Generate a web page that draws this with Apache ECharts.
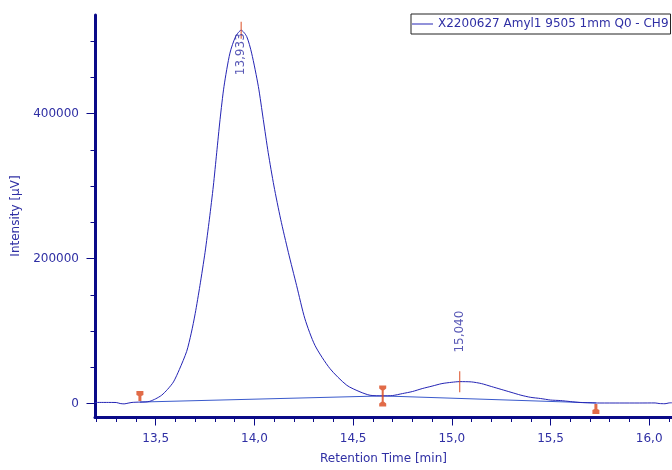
<!DOCTYPE html>
<html><head><meta charset="utf-8">
<script src="https://cdn.jsdelivr.net/npm/echarts@6/dist/echarts.min.js"></script>
<style>html,body{margin:0;padding:0;background:#fff}#c{width:672px;height:470px}</style>
</head><body><div id="c"></div>
<script>
const seriesName = 'X2200627 Amyl1 9505 1mm Q0 - CH9';
const times = [13.19, 13.25, 13.30, 13.32, 13.34, 13.36, 13.38, 13.42, 13.45, 13.47, 13.50, 13.53, 13.56, 13.59, 13.62, 13.657, 13.68, 13.70, 13.724, 13.75, 13.772, 13.792, 13.809, 13.826, 13.846, 13.876, 13.905, 13.933, 13.961, 13.986, 14.02, 14.045, 14.07, 14.099, 14.133, 14.172, 14.214, 14.256, 14.307, 14.383, 14.468, 14.535, 14.586, 14.65, 14.70, 14.75, 14.80, 14.85, 14.90, 14.95, 15.00, 15.04, 15.10, 15.15, 15.20, 15.25, 15.30, 15.35, 15.40, 15.45, 15.50, 15.55, 15.60, 15.65, 15.70, 15.75, 15.85, 15.95, 16.03, 16.05, 16.08, 16.10, 16.115];
const intensity = [1500, 1500, 1400, 0, -500, 500, 1500, 2000, 2200, 3000, 6500, 11400, 19500, 29800, 47000, 72000, 97000, 124000, 162600, 208500, 254300, 300100, 346000, 391800, 437500, 483400, 506300, 515000, 506300, 483400, 437500, 391800, 346000, 300100, 254300, 208500, 162600, 116800, 80100, 48100, 25200, 16100, 11400, 10500, 11000, 13700, 16500, 20600, 24000, 27500, 29300, 30200, 29800, 27500, 23500, 19500, 15500, 11500, 8500, 6900, 4800, 4100, 2700, 1400, 1000, 700, 700, 700, 800, 0, -300, 800, 1000];
const baselineTimes = [13.42, 14.65, 15.73];
const baselineValues = [2000, 10500, 800];
const peakTimes = [13.933, 15.040];
const peakValues = [515000, 30200];
const xMajorTicks = [13.5, 14.0, 14.5, 15.0, 15.5, 16.0];
const xMinorTicks = [13.2, 13.3, 13.4, 13.6, 13.7, 13.8, 13.9, 14.1, 14.2, 14.3, 14.4, 14.6, 14.7, 14.8, 14.9, 15.1, 15.2, 15.3, 15.4, 15.6, 15.7, 15.8, 15.9, 16.1];
const yMajorTicks = [0, 200000, 400000];
const yMinorTicks = [50000, 100000, 150000, 250000, 300000, 350000, 450000, 500000];

const NAVY = '#0a0a88';
const TXT = '#2f2fa4';
const RED = '#d9461a';
const FONT = 'DejaVu Sans';
const X_MIN = 13.1925, X_MAX = 16.1155, Y_MIN = -18600, Y_MAX = 536000;

const fmtX = v => v.toFixed(1).replace('.', ',');
const fmtY = v => String(Math.round(v));
const fmtPeak = v => v.toFixed(3).replace('.', ',');

const chart = echarts.init(document.getElementById('c'), null, {renderer: 'canvas'});
const markerStart = 'path://M0,0 L7,0 L7,4 L5,5 L5,10 L2,10 L2,5 L0,4 Z';
const markerValley = 'path://M0,0 L7,0 L7,3 L4.5,5 L4.5,16 L7,18 L7,21 L0,21 L0,18 L2.5,16 L2.5,5 L0,3 Z';
const markerEnd = 'path://M2,0 L5,0 L5,5 L7,6 L7,10 L0,10 L0,6 L2,5 Z';

chart.setOption({
  animation: false,
  backgroundColor: '#fff',
  grid: {left: 95, right: 0, top: 15, bottom: 51.5, containLabel: false},
  legend: {
    data: [seriesName], left: 411, top: 14, padding: [4, 2, 4, 1],
    itemWidth: 21, itemHeight: 1, icon: 'rect',
    borderColor: '#222', borderWidth: 1, backgroundColor: '#fff',
    textStyle: {color: TXT, fontSize: 12, fontFamily: FONT}
  },
  xAxis: [{
    type: 'value', min: X_MIN, max: X_MAX, position: 'bottom',
    axisLine: {show: true, onZero: false, lineStyle: {color: NAVY, width: 3}},
    axisTick: {show: true, customValues: xMajorTicks, length: 8.5, lineStyle: {color: NAVY, width: 1}},
    axisLabel: {customValues: xMajorTicks, formatter: fmtX, color: TXT, fontSize: 12, fontFamily: FONT, margin: 16},
    splitLine: {show: false},
    name: 'Retention Time [min]', nameLocation: 'middle', nameGap: 36,
    nameTextStyle: {color: TXT, fontSize: 12, fontFamily: FONT}
  }, {
    type: 'value', min: X_MIN, max: X_MAX, position: 'bottom',
    axisLine: {show: false, onZero: false},
    axisTick: {show: true, customValues: xMinorTicks, length: 5, lineStyle: {color: NAVY, width: 1}},
    axisLabel: {show: false}, splitLine: {show: false}
  }],
  yAxis: [{
    type: 'value', min: Y_MIN, max: Y_MAX, position: 'left',
    axisLine: {show: true, onZero: false, lineStyle: {color: NAVY, width: 3}},
    axisTick: {show: true, customValues: yMajorTicks, length: 8.5, lineStyle: {color: NAVY, width: 1}},
    axisLabel: {customValues: yMajorTicks, formatter: fmtY, color: TXT, fontSize: 12, fontFamily: FONT, margin: 16},
    splitLine: {show: false},
    name: 'Intensity [µV]', nameLocation: 'middle', nameGap: 67,
    nameTextStyle: {color: TXT, fontSize: 12, fontFamily: FONT}
  }, {
    type: 'value', min: Y_MIN, max: Y_MAX, position: 'left',
    axisLine: {show: false, onZero: false},
    axisTick: {show: true, customValues: yMinorTicks, length: 4.5, lineStyle: {color: NAVY, width: 1}},
    axisLabel: {show: false}, splitLine: {show: false}
  }],
  series: [{
    name: seriesName, type: 'line', xAxisIndex: 0, yAxisIndex: 0,
    data: times.map((t, i) => [t, intensity[i]]),
    showSymbol: false, symbol: 'none', z: 3, smooth: 0.25,
    lineStyle: {color: '#2424b4', width: 1}, itemStyle: {color: '#2424b4'}
  }, {
    name: 'baseline', type: 'line', xAxisIndex: 0, yAxisIndex: 0,
    data: baselineTimes.map((t, i) => [t, baselineValues[i]]),
    showSymbol: false, symbol: 'none', z: 2, silent: true,
    lineStyle: {color: '#3a5acc', width: 1}
  }, {
    name: 'apex', type: 'scatter', xAxisIndex: 0, yAxisIndex: 0, z: 5,
    data: peakTimes.map((t, i) => ({
      value: [t, peakValues[i]],
      symbolSize: i === 0 ? [1.2, 17] : [1.2, 21],
      label: {offset: i === 0 ? [-24, 0] : [50, 0]}
    })),
    symbol: 'rect', itemStyle: {color: RED},
    label: {
      show: true, position: 'inside', rotate: 90, align: 'center', verticalAlign: 'middle',
      formatter: p => fmtPeak(p.value[0]), color: TXT, fontSize: 12, fontFamily: FONT
    }
  }, {
    name: 'markers', type: 'scatter', xAxisIndex: 0, yAxisIndex: 0, z: 6,
    itemStyle: {color: RED},
    data: [
      {value: [baselineTimes[0], baselineValues[0]], symbol: markerStart, symbolSize: [7, 10], symbolOffset: [0, -6]},
      {value: [baselineTimes[1], baselineValues[1]], symbol: markerValley, symbolSize: [7, 21], symbolOffset: [0, 0]},
      {value: [baselineTimes[2], baselineValues[2]], symbol: markerEnd, symbolSize: [7, 10], symbolOffset: [0, 6]}
    ]
  }]
});
</script></body></html>
